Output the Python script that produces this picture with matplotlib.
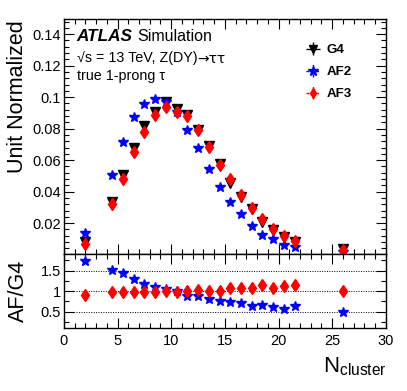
import matplotlib
matplotlib.use("Agg")
import matplotlib.pyplot as plt
from matplotlib.ticker import MultipleLocator, FixedLocator, FuncFormatter

plt.rcParams['font.family'] = ['Liberation Sans', 'DejaVu Sans']
plt.rcParams['mathtext.fontset'] = 'custom'
plt.rcParams['mathtext.rm'] = 'Liberation Sans'
plt.rcParams['mathtext.it'] = 'Liberation Sans:italic'

# bin centres (variable binning, last bin is wide)
n_cluster = [2, 4.5, 5.5, 6.5, 7.5, 8.5, 9.5, 10.5, 11.5, 12.5, 13.5,
             14.5, 15.5, 16.5, 17.5, 18.5, 19.5, 20.5, 21.5, 26]

g4 = [0.0082, 0.0337, 0.0503, 0.0679, 0.0815, 0.0906, 0.0970, 0.0927, 0.0889, 0.0789,
      0.0688, 0.0575, 0.0456, 0.0365, 0.0289, 0.0205, 0.0157, 0.0114, 0.0082, 0.0034]
af2 = [0.0135, 0.0503, 0.0715, 0.0872, 0.0957, 0.0991, 0.0972, 0.0908, 0.0794, 0.0677,
       0.0546, 0.0430, 0.0335, 0.0258, 0.0181, 0.0127, 0.0097, 0.0061, 0.0050, 0.0016]
af3 = [0.0068, 0.0322, 0.0480, 0.0653, 0.0779, 0.0885, 0.0938, 0.0906, 0.0883, 0.0794,
       0.0683, 0.0571, 0.0480, 0.0380, 0.0297, 0.0227, 0.0165, 0.0118, 0.0087, 0.0027]

ratio_af2 = [1.74, 1.51, 1.43, 1.30, 1.18, 1.11, 1.05, 1.00, 0.89, 0.87,
             0.80, 0.75, 0.73, 0.71, 0.64, 0.65, 0.62, 0.57, 0.645, 0.48]
ratio_af3 = [0.91, 0.975, 0.97, 0.975, 0.975, 0.98, 1.00, 0.98, 1.00, 1.02,
             1.00, 1.00, 1.08, 1.07, 1.065, 1.16, 1.08, 1.13, 1.16, 1.00]

fig = plt.figure(figsize=(4.07, 3.91), dpi=100)
ax = fig.add_axes([0.157, 0.350, 0.791, 0.601])
rax = fig.add_axes([0.157, 0.161, 0.791, 0.189], sharex=ax)

# main panel
ax.plot(n_cluster, g4, 'v', color='black', ms=7, ls='none', zorder=3)
ax.plot(n_cluster, af2, '*', color='blue', ms=7, ls='none', zorder=4)
ax.plot(n_cluster, af3, 'd', color='red', ms=6, ls='none', zorder=5)

ax.set_xlim(0, 30)
ax.set_ylim(0.0003, 0.1495)
ax.yaxis.set_major_locator(FixedLocator([0.02, 0.04, 0.06, 0.08, 0.1, 0.12, 0.14]))
ax.yaxis.set_minor_locator(MultipleLocator(0.004))
ax.yaxis.set_major_formatter(FuncFormatter(lambda v, p: '%g' % round(v, 3)))
ax.xaxis.set_major_locator(MultipleLocator(5))
ax.xaxis.set_minor_locator(MultipleLocator(1))
ax.tick_params(labelbottom=False)

# ratio panel
rax.plot(n_cluster, ratio_af2, '*', color='blue', ms=7, ls='none', zorder=4)
rax.plot(n_cluster, ratio_af3, 'd', color='red', ms=6, ls='none', zorder=5)
for yv in [0.5, 1.0, 1.5]:
    rax.axhline(yv, color='black', ls=(0, (1, 1.5)), lw=0.7, zorder=1)
rax.set_ylim(0.1, 1.9)
rax.yaxis.set_major_locator(FixedLocator([0.5, 1, 1.5]))
rax.yaxis.set_minor_locator(MultipleLocator(0.25))
rax.yaxis.set_major_formatter(FuncFormatter(lambda v, p: '%g' % v))

for a in (ax, rax):
    a.tick_params(which='both', direction='in', top=True, right=True,
                  labelsize=10.5, pad=2, width=0.8)
    a.tick_params(which='major', length=7)
    a.tick_params(which='minor', length=3.5)
    for s in a.spines.values():
        s.set_linewidth(1.0)
rax.tick_params(axis='x', pad=4)

# axis titles
fig.text(18 / 407, 1 - 97 / 391, 'Unit Normalized', rotation=90,
         ha='center', va='center', fontsize=15.5)
fig.text(18 / 407, 1 - 291 / 391, 'AF/G4', rotation=90,
         ha='center', va='center', fontsize=15.5)
fig.text(387 / 407, 1 - 372 / 391, r'N$_{\rm cluster}$', ha='right',
         va='baseline', fontsize=16)

# ATLAS label
ax.text(0.04, 0.925, 'ATLAS', transform=ax.transAxes, fontsize=12.3,
        fontweight='bold', fontstyle='italic', va='center')
ax.text(0.227, 0.925, 'Simulation', transform=ax.transAxes, fontsize=11.5,
        va='center')
t1 = ax.text(0.04, 0.835, '\u221as = 13 TeV, Z(DY)', transform=ax.transAxes,
             fontsize=10.3, va='center')
ax.annotate('\u2192\u03c4\u03c4', xy=(1.0, 0.45), xycoords=t1, ha='left',
            va='center', fontsize=10.0, family=['DejaVu Sans'])
ax.text(0.04, 0.758, 'true 1-prong \u03c4', transform=ax.transAxes,
        fontsize=10.3, va='center')

# legend with error-bar style handles
h_g4 = ax.errorbar([], [], xerr=[], yerr=[], fmt='v', color='black', ms=6, elinewidth=1)
h_af2 = ax.errorbar([], [], xerr=[], yerr=[], fmt='*', color='blue', ms=7, elinewidth=1)
h_af3 = ax.errorbar([], [], xerr=[], yerr=[], fmt='d', color='red', ms=5.5, elinewidth=1)
for h in (h_af2, h_af3):
    for lc in h[2]:
        lc.set_linestyle((0, (2, 1.5)))
leg = ax.legend([h_g4, h_af2, h_af3], ['G4', 'AF2', 'AF3'], loc='upper left',
                bbox_to_anchor=(0.71, 0.945), frameon=False, handlelength=1.3,
                handletextpad=0.4, labelspacing=0.75,
                prop={'weight': 'bold', 'size': 9.5})

fig.savefig('out.png', dpi=100)
